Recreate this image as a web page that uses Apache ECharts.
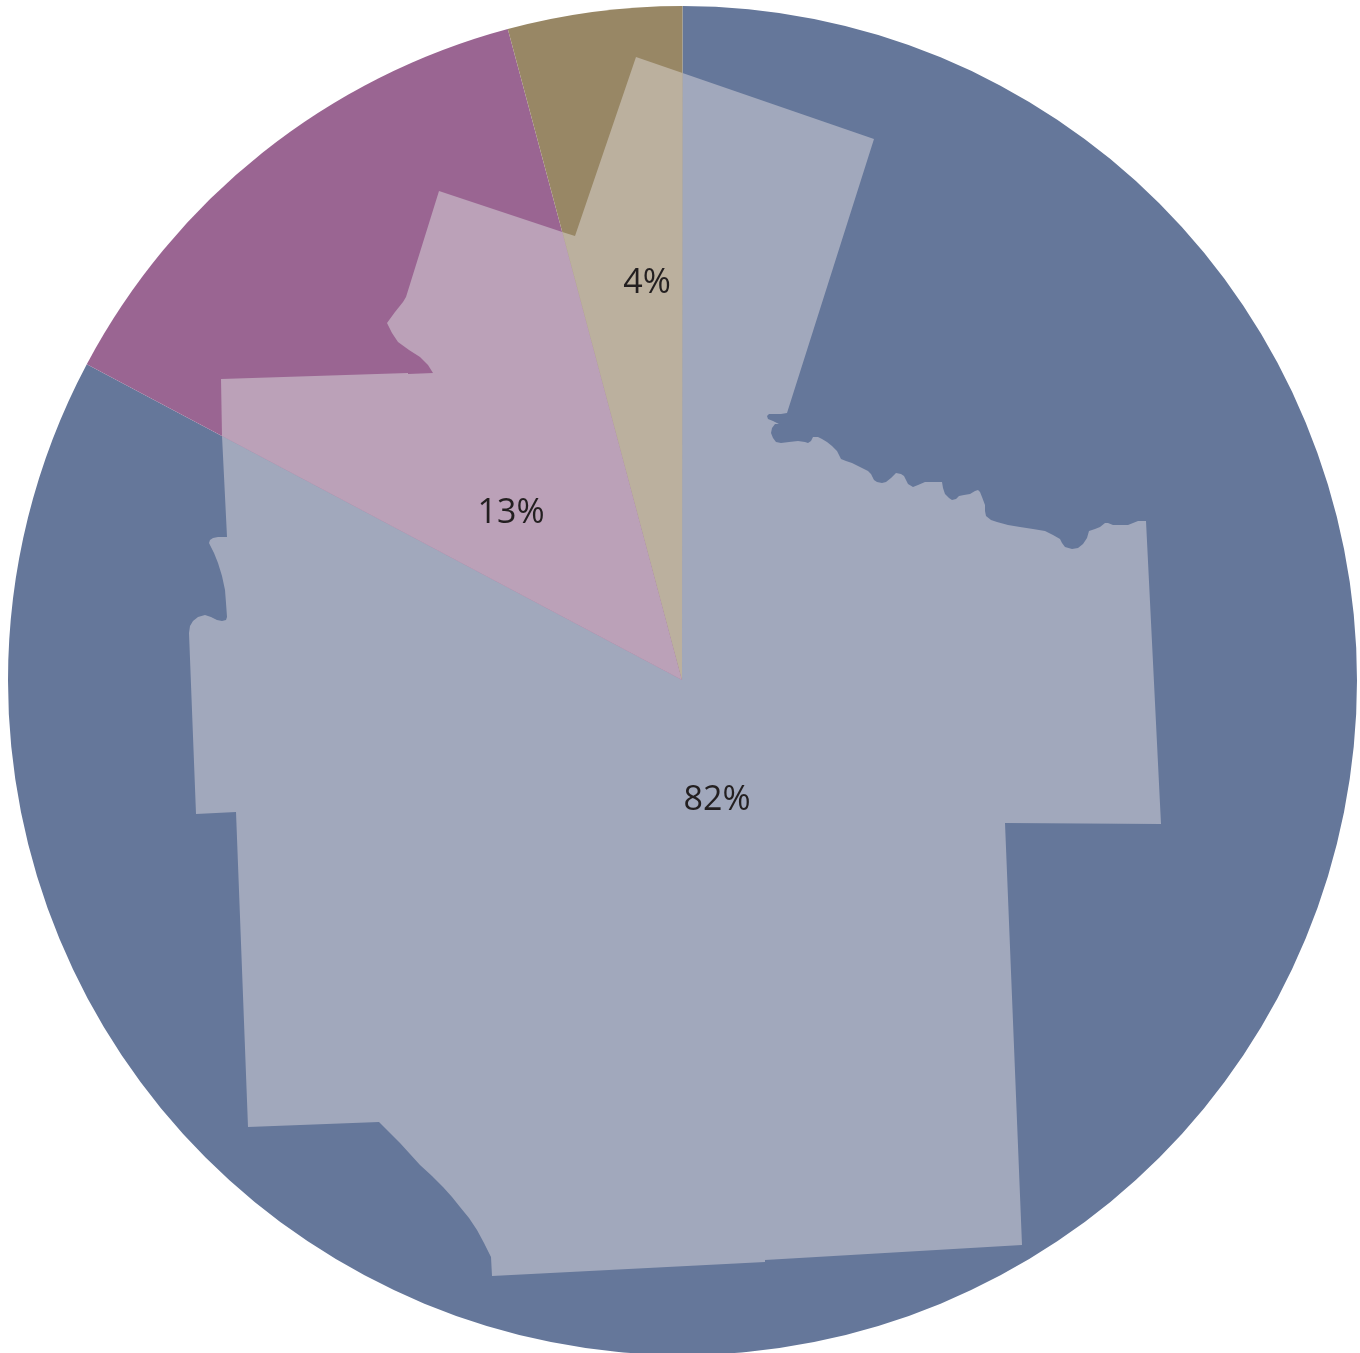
<!DOCTYPE html>
<html>
<head>
<meta charset="utf-8">
<style>html,body{margin:0;padding:0;background:#fff}#c{width:1360px;height:1353px}</style>
<script src="https://cdn.jsdelivr.net/npm/echarts@6/dist/echarts.min.js"></script>
</head>
<body>
<div id="c"></div>
<script>
const categories = ['Blue share', 'Purple share', 'Brown share'];
const values = [82.77, 13.06, 4.17];
const valueLabels = ['82%', '13%', '4%'];
const sliceColors = ['#65779a', '#9a6592', '#988765'];
const shapeColors = ['#a1a8bc', '#bba1b8', '#bbb09e'];
const labelPositions = [[717, 800], [511, 513], [647, 283]];

const apex = [682, 680];
const blueShape = [
  [682.5,73],[874,139],[787,413],[781,414],[773,414],[769,414],[767,416],[768,419],[773,421],[779,424],
  [775,424],[772,428],[771,433],[773,438],[776,442],[781,443],[789,442],[798,441],[805,442],[808,443],
  [811,441],[813,437],[818,437],[822,439],[827,442],[832,446],[837,451],[839,455],[841,459],[846,461],
  [852,463],[860,467],[868,471],[871,474],[874,480],[877,482],[882,483],[886,482],[891,478],[896,473],
  [901,474],[904,476],[906,480],[908,484],[913,487],[918,485],[925,482],[933,482],[942,482],[943,488],
  [945,494],[949,498],[952,500],[956,499],[959,496],[964,495],[970,494],[975,491],[978,490],[980,492],
  [982,497],[985,505],[985,511],[986,516],[991,520],[997,522],[1008,525],[1020,527],[1033,529],[1045,531],
  [1053,535],[1060,539],[1062,543],[1065,547],[1072,549],[1078,548],[1083,544],[1087,538],[1089,531],[1095,529],
  [1100,527],[1105,523],[1108,523],[1113,525],[1118,525],[1128,525],[1133,523],[1138,521],[1146,521],
  [1161,824],[1005,823],[1022,1245],[765,1260],[765,1262],[492,1276],[491,1257],[484,1243],[477,1230],[469,1218],
  [460,1207],[452,1197],[443,1187],[432,1176],[420,1165],[410,1154],[400,1143],[379,1122],[248,1127],[236,812],
  [196,814],[189,633],[190,626],[193,621],[198,617],[205,615],[211,617],[217,620],[222,621],[226,620],
  [227,617],[226,603],[225,590],[222,576],[218,563],[214,553],[209,543],[210,540],[213,538],[218,537],
  [227,537],[222,436],apex
];
const purpleShape = [
  [222,436],[221,379],[408,373],[408,374],[433,373],[428,365],[420,357],[409,350],[398,342],[392,333],
  [387,323],[395,312],[403,302],[406,297],[439,191],[562.3,232],apex
];
const brownShape = [[562.3,232],[575,236],[636,57],[682.5,73],apex];
const shapes = [blueShape, purpleShape, brownShape];

const chart = echarts.init(document.getElementById('c'), null, {renderer: 'canvas', width: 1360, height: 1353});
const pieData = categories.map((name, i) => ({name, value: values[i], itemStyle: {color: sliceColors[i]}}));
const labelData = categories.map((name, i) => ({name, value: values[i]}));

chart.setOption({
  animation: false,
  backgroundColor: '#ffffff',
  tooltip: {show: false},
  legend: {show: false},
  graphic: shapes.map((points, i) => ({
    type: 'polygon',
    z: 5,
    silent: true,
    shape: {points},
    style: {fill: shapeColors[i]}
  })),
  series: [
    {
      type: 'pie',
      z: 1,
      silent: true,
      center: [682.5, 680.5],
      radius: [0, 674.5],
      startAngle: 90,
      clockwise: true,
      minAngle: 0,
      avoidLabelOverlap: false,
      label: {show: false},
      labelLine: {show: false},
      data: pieData
    },
    {
      type: 'pie',
      z: 10,
      silent: true,
      center: [682.5, 680.5],
      radius: [0, 674.5],
      startAngle: 90,
      clockwise: true,
      avoidLabelOverlap: false,
      itemStyle: {color: 'rgba(0,0,0,0)'},
      label: {
        show: true,
        position: 'inside',
        formatter: p => valueLabels[p.dataIndex],
        fontFamily: '"Open Sans", sans-serif',
        fontSize: 34,
        color: '#231f20'
      },
      labelLine: {show: false},
      labelLayout: p => ({
        x: labelPositions[p.dataIndex][0],
        y: labelPositions[p.dataIndex][1],
        align: 'center',
        verticalAlign: 'middle',
        hideOverlap: false
      }),
      data: labelData
    }
  ]
});
</script>
</body>
</html>
